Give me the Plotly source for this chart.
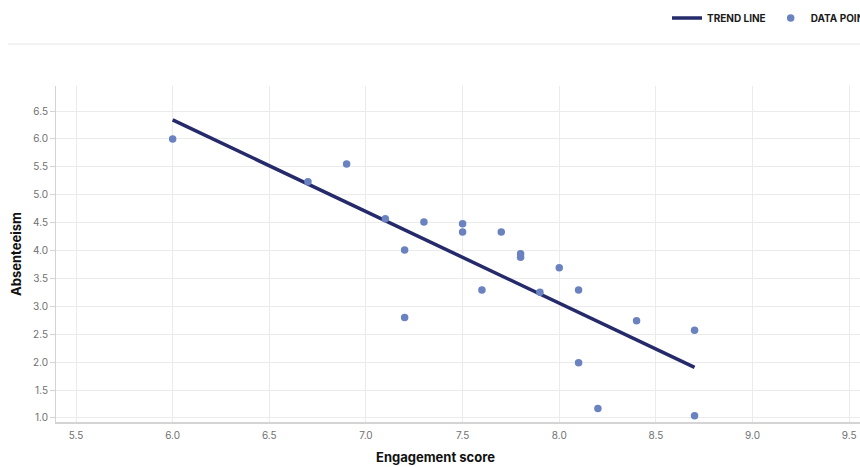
import numpy as np
import plotly.graph_objects as go

# Data
engagement = [6.0, 6.7, 6.9, 7.1, 7.2, 7.2, 7.3, 7.5, 7.5, 7.6, 7.7,
              7.8, 7.8, 7.9, 8.0, 8.1, 8.1, 8.2, 8.4, 8.7, 8.7]
absenteeism = [6.00, 5.23, 5.55, 4.57, 4.01, 2.80, 4.51, 4.48, 4.33, 3.29, 4.33,
               3.94, 3.88, 3.25, 3.69, 3.29, 1.99, 1.17, 2.74, 2.57, 1.04]
x_ticks = [5.5, 6.0, 6.5, 7.0, 7.5, 8.0, 8.5, 9.0, 9.5]
y_ticks = [1.0, 1.5, 2.0, 2.5, 3.0, 3.5, 4.0, 4.5, 5.0, 5.5, 6.0, 6.5]

# Linear trend line fitted to the data
slope, intercept = np.polyfit(engagement, absenteeism, 1)
trend_x = [min(engagement), max(engagement)]
trend_y = [slope * v + intercept for v in trend_x]

# Page body margin is removed below, so figure coords = page coords
W, H = 860, 467
ML, MT = 56, 86
PB = 422
MR, MB = 0, H - PB
PW, PH = W - ML - MR, H - MT - MB
XS, YS = 193.3, 55.8  # px per unit

TICK_FONT = dict(family="Inter, Lato, sans-serif", size=10, color="#707070")
TITLE_FONT = dict(family="Inter, Lato, sans-serif", size=13, color="#111111")

fig = go.Figure()
fig.add_trace(go.Scatter(
    x=trend_x, y=trend_y, mode="lines", name="TREND LINE",
    line=dict(color="#252a6b", width=3.5),
))
fig.add_trace(go.Scatter(
    x=engagement, y=absenteeism, mode="markers", name="DATA POINT",
    marker=dict(color="#6a82c0", size=7.5, line=dict(width=0)),
))

x0 = 5.5 - (76 - ML) / XS
ytop = 6.5 + (111 - MT) / YS

fig.update_layout(
    width=W, height=H,
    margin=dict(l=ML, r=MR, t=MT, b=MB, pad=0, autoexpand=False),
    paper_bgcolor="white", plot_bgcolor="white",
    showlegend=True,
    legend=dict(
        orientation="h", x=(667 - ML) / PW, xanchor="left",
        y=1 + (MT - 18) / PH, yanchor="middle",
        font=dict(family="Inter, Lato, sans-serif", size=10, color="#1a1a1a",
                  weight="bold"),
        bgcolor="rgba(0,0,0,0)", itemsizing="trace",
        tracegroupgap=0,
    ),
    xaxis=dict(
        range=[x0, x0 + PW / XS],
        tickvals=x_ticks, tickformat=".1f", automargin=False,
        showgrid=True, gridcolor="#ebebeb", gridwidth=1,
        zeroline=False, showline=True, linecolor="#d4d4d4", linewidth=2,
        ticks="", tickfont=TICK_FONT, ticklabelstandoff=3,
    ),
    yaxis=dict(
        range=[ytop - PH / YS, ytop],
        tickvals=y_ticks, tickformat=".1f", automargin=False,
        showgrid=True, gridcolor="#ebebeb", gridwidth=1,
        zeroline=False, showline=True, linecolor="#d4d4d4", linewidth=1,
        ticks="outside", ticklen=5, tickcolor="#d4d4d4",
        tickfont=TICK_FONT,
        title=dict(text="Absenteeism", font=dict(**TITLE_FONT, weight="bold"),
                   standoff=8),
    ),
    shapes=[dict(
        type="line", xref="paper", yref="paper",
        x0=(8 - ML) / PW, x1=1.0,
        y0=1 + (MT - 44) / PH, y1=1 + (MT - 44) / PH,
        line=dict(color="#e6e6e6", width=1),
    )],
    annotations=[dict(
        text="Engagement score", xref="paper", yref="paper",
        x=(435 - ML) / PW, y=-(457 - PB) / PH,
        xanchor="center", yanchor="middle", showarrow=False,
        font=dict(**TITLE_FONT, weight="bold"),
    )],
)

fig.write_html(
    "out.html",
    config={"displayModeBar": False},
    post_script="document.body.style.margin='0';document.body.style.overflow='hidden';",
)
